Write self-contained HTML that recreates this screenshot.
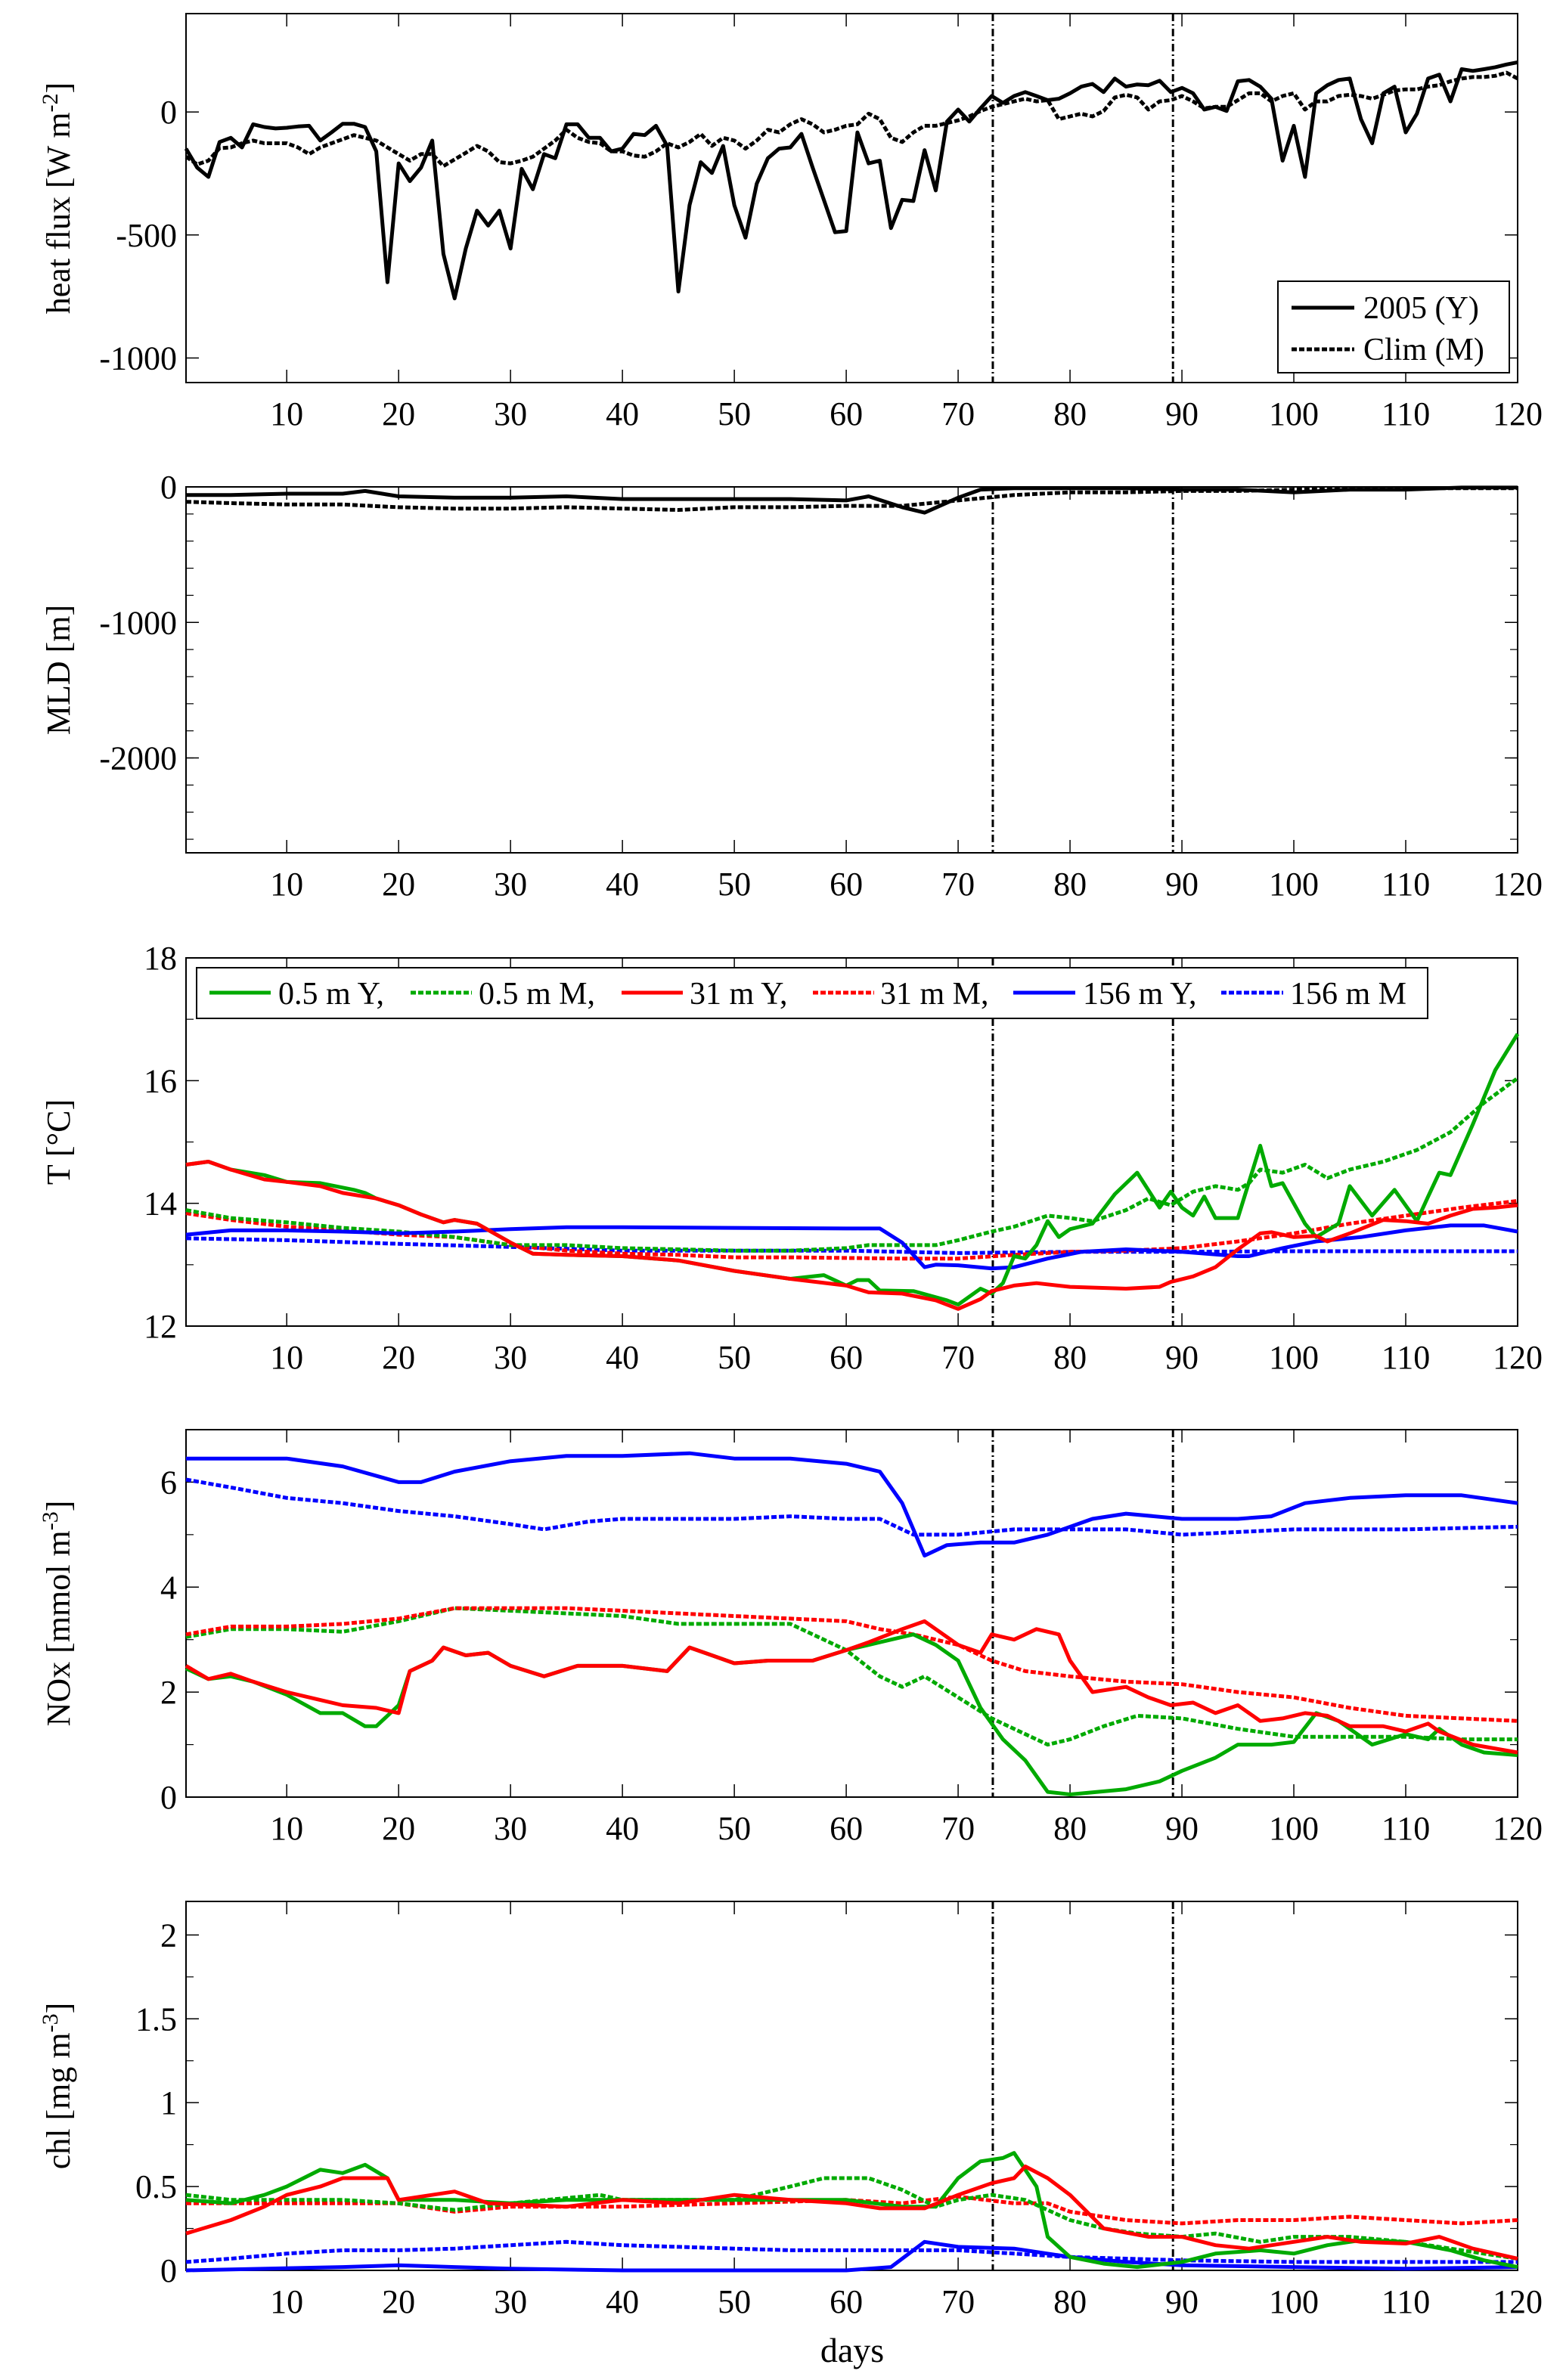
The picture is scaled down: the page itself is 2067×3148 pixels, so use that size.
<!DOCTYPE html>
<html><head><meta charset="utf-8">
<style>
html,body{margin:0;padding:0;background:#fff;}
svg{display:block;font-family:"Liberation Serif","DejaVu Serif",serif;}
</style></head>
<body>
<svg id="fig" width="2067" height="3148" viewBox="0 0 2067 3148" xmlns="http://www.w3.org/2000/svg"></svg>
<script>
// ---------- data ----------
const hfDays = Array.from({length:120},(_,i)=>i+1);
const hf2005 = [-149,-226,-264,-122,-105,-144,-50,-61,-67,-64,-59,-56,-116,-83,-48,-48,-61,-160,-692,-209,-281,-226,-116,-577,-758,-555,-401,-462,-401,-555,-231,-314,-171,-188,-50,-50,-105,-105,-160,-149,-89,-94,-56,-138,-730,-379,-204,-248,-138,-379,-511,-292,-188,-149,-144,-89,-226,-357,-489,-484,-83,-209,-198,-472,-357,-362,-155,-319,-39,10,-39,15,65,37,65,81,65,48,54,76,103,114,81,136,103,112,109,127,81,98,76,10,21,4,125,130,103,54,-198,-56,-264,76,109,130,136,-29,-127,76,103,-83,-7,136,152,43,174,167,174,182,193,202];
const hfClim = [-182,-213,-198,-147,-144,-127,-116,-127,-127,-127,-144,-171,-144,-127,-111,-94,-105,-116,-144,-171,-198,-171,-171,-220,-193,-166,-138,-160,-204,-209,-198,-182,-149,-116,-72,-105,-122,-127,-160,-160,-177,-182,-160,-127,-144,-122,-89,-138,-105,-116,-149,-116,-72,-83,-50,-29,-50,-83,-72,-56,-50,-7,-29,-105,-122,-83,-56,-56,-45,-34,-18,4,21,32,43,54,43,48,-29,-18,-7,-18,4,59,70,59,10,43,48,65,43,15,21,21,48,76,76,43,65,76,10,43,43,65,70,65,54,70,87,92,92,103,109,125,136,142,142,147,160,136];

const mld2005 = [[1,-60],[5,-60],[10,-50],[15,-50],[17,-30],[20,-70],[25,-80],[30,-80],[35,-70],[40,-90],[45,-90],[50,-90],[55,-90],[60,-100],[62,-70],[65,-150],[67,-190],[70,-80],[72,-20],[75,-10],[80,-10],[85,-10],[90,-20],[95,-20],[100,-40],[105,-20],[110,-20],[115,-5],[120,-5]];
const mldClim = [[1,-110],[5,-120],[10,-130],[15,-130],[20,-150],[25,-160],[30,-160],[35,-150],[40,-160],[45,-170],[50,-150],[55,-150],[60,-140],[65,-140],[70,-100],[75,-60],[80,-40],[85,-40],[90,-30],[95,-30],[100,-20],[110,-10],[120,-10]];

const tGreenY = [[1,14.63],[3,14.68],[5,14.55],[8,14.46],[10,14.35],[13,14.33],[16,14.22],[17,14.17],[18,14.08],[20,13.97],[22,13.82],[24,13.69],[25,13.73],[27,13.67],[30,13.36],[32,13.18],[35,13.16],[40,13.14],[45,13.07],[50,12.9],[55,12.77],[58,12.83],[60,12.66],[61,12.75],[62,12.75],[63,12.58],[66,12.57],[69,12.42],[70,12.35],[72,12.61],[73,12.53],[74,12.7],[75,13.14],[76,13.1],[77,13.32],[78,13.71],[79,13.45],[80,13.58],[82,13.67],[84,14.15],[86,14.5],[88,13.93],[89,14.19],[90,13.93],[91,13.8],[92,14.11],[93,13.76],[95,13.76],[97,14.94],[98,14.28],[99,14.33],[101,13.67],[102,13.45],[104,13.67],[105,14.28],[107,13.8],[109,14.22],[111,13.71],[112,14.11],[113,14.5],[114,14.46],[116,15.29],[118,16.17],[120,16.76]];
const tGreenM = [[1,13.89],[5,13.76],[10,13.69],[15,13.6],[20,13.54],[25,13.45],[30,13.32],[35,13.32],[40,13.27],[45,13.25],[50,13.23],[55,13.23],[60,13.27],[62,13.32],[65,13.32],[68,13.32],[70,13.4],[73,13.54],[75,13.62],[78,13.8],[80,13.76],[82,13.71],[85,13.89],[87,14.08],[89,13.97],[91,14.19],[93,14.28],[95,14.22],[96,14.33],[97,14.55],[99,14.5],[101,14.63],[103,14.41],[105,14.55],[108,14.68],[111,14.87],[114,15.16],[117,15.64],[120,16.04]];
const tRedY = [[1,14.63],[3,14.68],[5,14.55],[8,14.39],[10,14.35],[13,14.28],[15,14.17],[18,14.08],[20,13.97],[22,13.82],[24,13.69],[25,13.73],[27,13.67],[30,13.36],[32,13.18],[35,13.16],[40,13.14],[45,13.07],[50,12.9],[55,12.77],[60,12.66],[62,12.55],[65,12.53],[68,12.42],[70,12.28],[72,12.44],[73,12.57],[75,12.66],[77,12.7],[80,12.64],[85,12.61],[88,12.64],[89,12.72],[91,12.81],[93,12.96],[95,13.25],[97,13.51],[98,13.53],[100,13.45],[102,13.47],[103,13.38],[105,13.51],[108,13.73],[110,13.71],[112,13.67],[114,13.8],[116,13.91],[118,13.93],[120,13.97]];
const tRedM = [[1,13.84],[5,13.73],[10,13.62],[15,13.56],[20,13.49],[25,13.45],[30,13.32],[35,13.23],[40,13.18],[45,13.16],[50,13.12],[55,13.12],[60,13.11],[65,13.1],[70,13.1],[75,13.16],[80,13.21],[85,13.23],[90,13.27],[95,13.38],[100,13.51],[105,13.67],[110,13.8],[115,13.93],[120,14.04]];
const tBlueY = [[1,13.49],[5,13.56],[10,13.56],[15,13.54],[20,13.51],[25,13.54],[30,13.58],[35,13.61],[40,13.61],[50,13.6],[60,13.59],[63,13.59],[65,13.36],[67,12.96],[68,13.0],[70,12.99],[73,12.94],[75,12.96],[78,13.1],[81,13.21],[85,13.25],[90,13.21],[95,13.14],[96,13.14],[99,13.27],[102,13.38],[106,13.45],[110,13.56],[114,13.64],[117,13.64],[120,13.54]];
const tBlueM = [[1,13.43],[10,13.4],[20,13.34],[30,13.29],[40,13.23],[50,13.23],[60,13.23],[65,13.21],[70,13.19],[80,13.21],[90,13.21],[100,13.22],[110,13.22],[120,13.22]];

const nBlueY = [[1,6.45],[10,6.45],[15,6.3],[20,6.0],[22,6.0],[25,6.2],[30,6.4],[35,6.5],[40,6.5],[46,6.55],[50,6.45],[55,6.45],[60,6.35],[63,6.2],[65,5.6],[67,4.6],[69,4.8],[72,4.85],[75,4.85],[78,5.0],[82,5.3],[85,5.4],[90,5.3],[95,5.3],[98,5.35],[101,5.6],[105,5.7],[110,5.75],[115,5.75],[120,5.6]];
const nBlueM = [[1,6.05],[5,5.9],[10,5.7],[15,5.6],[20,5.45],[25,5.35],[30,5.2],[33,5.1],[37,5.25],[40,5.3],[45,5.3],[50,5.3],[55,5.35],[60,5.3],[63,5.3],[66,5.0],[70,5.0],[75,5.1],[80,5.1],[85,5.1],[90,5.0],[95,5.05],[100,5.1],[110,5.1],[120,5.15]];
const nRedY = [[1,2.5],[3,2.25],[5,2.35],[7,2.2],[10,2.0],[13,1.85],[15,1.75],[18,1.7],[20,1.6],[21,2.4],[23,2.6],[24,2.85],[26,2.7],[28,2.75],[30,2.5],[33,2.3],[36,2.5],[40,2.5],[44,2.4],[46,2.85],[48,2.7],[50,2.55],[53,2.6],[57,2.6],[60,2.8],[62,2.95],[65,3.2],[67,3.35],[70,2.9],[72,2.75],[73,3.1],[75,3.0],[77,3.2],[79,3.1],[80,2.6],[82,2.0],[85,2.1],[87,1.9],[89,1.75],[91,1.8],[93,1.6],[95,1.75],[97,1.45],[99,1.5],[101,1.6],[103,1.55],[105,1.35],[108,1.35],[110,1.25],[112,1.4],[113,1.25],[116,1.0],[120,0.85]];
const nGreenY = [[1,2.45],[3,2.25],[5,2.3],[7,2.2],[10,1.95],[13,1.6],[15,1.6],[17,1.35],[18,1.35],[20,1.75],[21,2.4],[23,2.6],[24,2.85],[26,2.7],[28,2.75],[30,2.5],[33,2.3],[36,2.5],[40,2.5],[44,2.4],[46,2.85],[48,2.7],[50,2.55],[53,2.6],[57,2.6],[60,2.8],[63,2.95],[66,3.1],[68,2.9],[70,2.6],[72,1.7],[74,1.1],[76,0.7],[78,0.1],[80,0.05],[85,0.15],[88,0.3],[90,0.5],[93,0.75],[95,1.0],[98,1.0],[100,1.05],[102,1.6],[104,1.45],[107,1.0],[110,1.2],[112,1.1],[113,1.3],[115,1.0],[117,0.85],[120,0.8]];
const nGreenM = [[1,3.05],[5,3.2],[10,3.2],[15,3.15],[20,3.35],[25,3.6],[30,3.55],[35,3.5],[40,3.45],[45,3.3],[50,3.3],[55,3.3],[60,2.8],[63,2.3],[65,2.1],[67,2.3],[70,1.9],[73,1.5],[76,1.2],[78,1.0],[80,1.1],[83,1.35],[86,1.55],[90,1.5],[95,1.3],[100,1.15],[105,1.15],[110,1.15],[115,1.1],[120,1.1]];
const nRedM = [[1,3.1],[5,3.25],[10,3.25],[15,3.3],[20,3.4],[25,3.6],[30,3.6],[35,3.6],[40,3.55],[45,3.5],[50,3.45],[55,3.4],[60,3.35],[63,3.2],[66,3.1],[70,2.9],[73,2.6],[76,2.4],[80,2.3],[85,2.2],[90,2.15],[95,2.0],[100,1.9],[105,1.7],[110,1.55],[115,1.5],[120,1.45]];

const cGreenY = [[1,0.42],[5,0.4],[8,0.45],[10,0.5],[13,0.6],[15,0.58],[17,0.63],[19,0.55],[20,0.42],[25,0.42],[30,0.4],[35,0.42],[40,0.42],[45,0.42],[50,0.42],[55,0.42],[60,0.42],[65,0.38],[68,0.38],[70,0.55],[72,0.65],[74,0.67],[75,0.7],[77,0.5],[78,0.2],[80,0.08],[83,0.04],[86,0.02],[90,0.05],[93,0.1],[97,0.12],[100,0.1],[103,0.15],[106,0.18],[110,0.17],[114,0.12],[117,0.06],[120,0.02]];
const cRedY = [[1,0.22],[5,0.3],[8,0.38],[10,0.45],[13,0.5],[15,0.55],[17,0.55],[19,0.55],[20,0.42],[25,0.47],[28,0.4],[35,0.38],[40,0.42],[45,0.4],[50,0.45],[55,0.42],[60,0.4],[63,0.37],[67,0.37],[70,0.45],[73,0.52],[75,0.55],[76,0.62],[78,0.55],[80,0.45],[83,0.25],[87,0.2],[90,0.2],[93,0.15],[96,0.13],[100,0.17],[103,0.2],[106,0.17],[110,0.16],[113,0.2],[116,0.13],[120,0.07]];
const cGreenM = [[1,0.45],[5,0.42],[10,0.42],[15,0.42],[20,0.4],[25,0.36],[30,0.4],[38,0.45],[40,0.42],[45,0.42],[50,0.42],[55,0.5],[58,0.55],[62,0.55],[65,0.48],[68,0.38],[70,0.42],[73,0.45],[76,0.42],[80,0.3],[83,0.25],[86,0.22],[90,0.2],[93,0.22],[97,0.17],[100,0.2],[105,0.2],[110,0.17],[115,0.12],[120,0.07]];
const cRedM = [[1,0.4],[10,0.4],[20,0.4],[25,0.35],[30,0.38],[40,0.38],[50,0.4],[60,0.42],[65,0.4],[70,0.44],[75,0.4],[78,0.4],[80,0.35],[85,0.3],[90,0.28],[95,0.3],[100,0.3],[105,0.32],[110,0.3],[115,0.28],[120,0.3]];
const cBlueY = [[1,0],[15,0.02],[20,0.03],[25,0.02],[30,0.01],[40,0],[60,0],[64,0.02],[67,0.17],[70,0.14],[75,0.13],[80,0.08],[85,0.05],[90,0.03],[100,0.02],[110,0.01],[120,0.02]];
const cBlueM = [[1,0.05],[5,0.07],[10,0.1],[15,0.12],[20,0.12],[25,0.13],[30,0.15],[35,0.17],[40,0.15],[45,0.14],[50,0.13],[55,0.12],[60,0.12],[65,0.12],[70,0.12],[75,0.1],[80,0.08],[85,0.07],[90,0.06],[100,0.05],[110,0.05],[120,0.05]];

const xTicks = [10,20,30,40,50,60,70,80,90,100,110,120];
const eventDays = [73.1,89.2];
const hfTicks = [0,-500,-1000];
const mldTicks = [0,-1000,-2000];
const tTicks = [12,14,16,18];
const nTicks = [0,2,4,6];
const cTicks = [0,0.5,1,1.5,2];
const cTickLabels = ['0','0.5','1','1.5','2'];

// ---------- drawing ----------
const NS='http://www.w3.org/2000/svg';
const svg=document.getElementById('fig');
const L=246,R=2007;
const GREEN='#00aa00',RED='#ff0000',BLUE='#0000ff';
function el(tag,attrs,parent){const e=document.createElementNS(NS,tag);for(const k in attrs)e.setAttribute(k,attrs[k]);(parent||svg).appendChild(e);return e;}
function xs(d){return L+(d-1)*(R-L)/119;}

function panel(name,top,bot,ymin,ymax,yt,ytl,minor,title){
  const g=el('g',{});
  
  
  const ys=v=>bot-(v-ymin)*(bot-top)/(ymax-ymin);
  const fr=el('rect',{x:L,y:top,width:R-L,height:bot-top,fill:'none',stroke:'#000','stroke-width':2},g);
  
  
  xTicks.forEach(t=>{
    const x=xs(t);
    el('line',{x1:x,y1:bot,x2:x,y2:bot-17,stroke:'#000','stroke-width':1.5},g);
    el('line',{x1:x,y1:top,x2:x,y2:top+17,stroke:'#000','stroke-width':1.5},g);
    const tx=el('text',{x:x,y:bot+56,'font-size':44,'text-anchor':'middle'},g);
    tx.textContent=t;
    
    
  });
  yt.forEach((t,i)=>{
    const y=ys(t);
    el('line',{x1:L,y1:y,x2:L+17,y2:y,stroke:'#000','stroke-width':1.5},g);
    el('line',{x1:R,y1:y,x2:R-17,y2:y,stroke:'#000','stroke-width':1.5},g);
    const tx=el('text',{x:234,y:y+15,'font-size':44,'text-anchor':'end'},g);
    tx.textContent=ytl?ytl[i]:t;
    
    
  });
  if(minor){for(let v=minor[0];v<=ymax+1e-9;v+=minor[1]){const y=ys(v);if(y<top+2||y>bot-2)continue;
    el('line',{x1:L,y1:y,x2:L+10,y2:y,stroke:'#000','stroke-width':1.2},g);
    el('line',{x1:R,y1:y,x2:R-10,y2:y,stroke:'#000','stroke-width':1.2},g);}}
  const ty=el('text',{transform:`translate(92 ${(top+bot)/2}) rotate(-90)`,'font-size':44,'text-anchor':'middle'},g);
  ty.innerHTML=title;
  
  
  eventDays.forEach(d=>{
    const ln=el('line',{x1:xs(d),y1:top,x2:xs(d),y2:bot,stroke:'#000','stroke-width':3,'stroke-dasharray':'10,4,2,4'},g);
    
    
  });
  return {g,ys};
}
function series(p,pts,color,dashed,name){
  const d=pts.map((q,i)=>(i?'L':'M')+xs(q[0]).toFixed(1)+' '+p.ys(q[1]).toFixed(1)).join(' ');
  const path=el('path',{d,fill:'none',stroke:color,'stroke-width':5,'stroke-linejoin':'round','stroke-dasharray':dashed?'7,3':'none'},p.g);
  
  
}

// Panel 1
const p1=panel('heat-flux-panel',18,506,-1100,400,hfTicks,null,null,'heat flux [W m<tspan dy="-16" font-size="30">-2</tspan><tspan dy="16">]</tspan>');
series(p1,hfDays.map((d,i)=>[d,hfClim[i]]),'#000',true,'heat-flux-clim-line');
series(p1,hfDays.map((d,i)=>[d,hf2005[i]]),'#000',false,'heat-flux-2005-line');
const lg1=el('g',{},p1.g);


el('rect',{x:1690,y:372,width:306,height:121,fill:'#fff',stroke:'#000','stroke-width':2},lg1);
el('line',{x1:1708,y1:407,x2:1791,y2:407,stroke:'#000','stroke-width':5},lg1);
el('line',{x1:1708,y1:462,x2:1791,y2:462,stroke:'#000','stroke-width':5,'stroke-dasharray':'7,3'},lg1);
let t=el('text',{x:1803,y:421,'font-size':42},lg1);t.textContent='2005 (Y)';


t=el('text',{x:1803,y:476,'font-size':42},lg1);t.textContent='Clim (M)';



// Panel 2
const p2=panel('mld-panel',644,1128,-2700,0,mldTicks,null,[-2600,200],'MLD [m]');
series(p2,mldClim,'#000',true,'mld-clim-line');
series(p2,mld2005,'#000',false,'mld-2005-line');

// Panel 3
const p3=panel('temperature-panel',1267,1754,12,18,tTicks,null,[13,2],'T [°C]');
series(p3,tBlueM,BLUE,true,'t-156m-m-line');
series(p3,tRedM,RED,true,'t-31m-m-line');
series(p3,tGreenM,GREEN,true,'t-05m-m-line');
series(p3,tBlueY,BLUE,false,'t-156m-y-line');
series(p3,tGreenY,GREEN,false,'t-05m-y-line');
series(p3,tRedY,RED,false,'t-31m-y-line');
const lg3=el('g',{},p3.g);


el('rect',{x:260,y:1280,width:1628,height:67,fill:'#fff',stroke:'#000','stroke-width':2},lg3);
const legItems=[[277,358,368,GREEN,false,'0.5 m Y,'],[543,624,633,GREEN,true,'0.5 m M,'],[822,903,912,RED,false,'31 m Y,'],[1075,1156,1164,RED,true,'31 m M,'],[1340,1422,1432,BLUE,false,'156 m Y,'],[1615,1697,1706,BLUE,true,'156 m M']];
legItems.forEach(it=>{
  el('line',{x1:it[0],y1:1313,x2:it[1],y2:1313,stroke:it[3],'stroke-width':5,'stroke-dasharray':it[4]?'7,3':'none'},lg3);
  const tx=el('text',{x:it[2],y:1328,'font-size':42},lg3);tx.textContent=it[5];
  
  
});

// Panel 4
const p4=panel('nox-panel',1891,2377,0,7,nTicks,null,[1,2],'NOx [mmol m<tspan dy="-16" font-size="30">-3</tspan><tspan dy="16">]</tspan>');
series(p4,nBlueM,BLUE,true,'nox-156m-m-line');
series(p4,nGreenM,GREEN,true,'nox-05m-m-line');
series(p4,nRedM,RED,true,'nox-31m-m-line');
series(p4,nBlueY,BLUE,false,'nox-156m-y-line');
series(p4,nGreenY,GREEN,false,'nox-05m-y-line');
series(p4,nRedY,RED,false,'nox-31m-y-line');

// Panel 5
const p5=panel('chl-panel',2515,3003,0,2.2,cTicks,cTickLabels,[0.25,0.5],'chl [mg m<tspan dy="-16" font-size="30">-3</tspan><tspan dy="16">]</tspan>');
series(p5,cBlueM,BLUE,true,'chl-156m-m-line');
series(p5,cRedM,RED,true,'chl-31m-m-line');
series(p5,cGreenM,GREEN,true,'chl-05m-m-line');
series(p5,cBlueY,BLUE,false,'chl-156m-y-line');
series(p5,cGreenY,GREEN,false,'chl-05m-y-line');
series(p5,cRedY,RED,false,'chl-31m-y-line');
const xl=el('text',{x:1127,y:3124,'font-size':46,'text-anchor':'middle'});
xl.textContent='days';


</script>
</body></html>
